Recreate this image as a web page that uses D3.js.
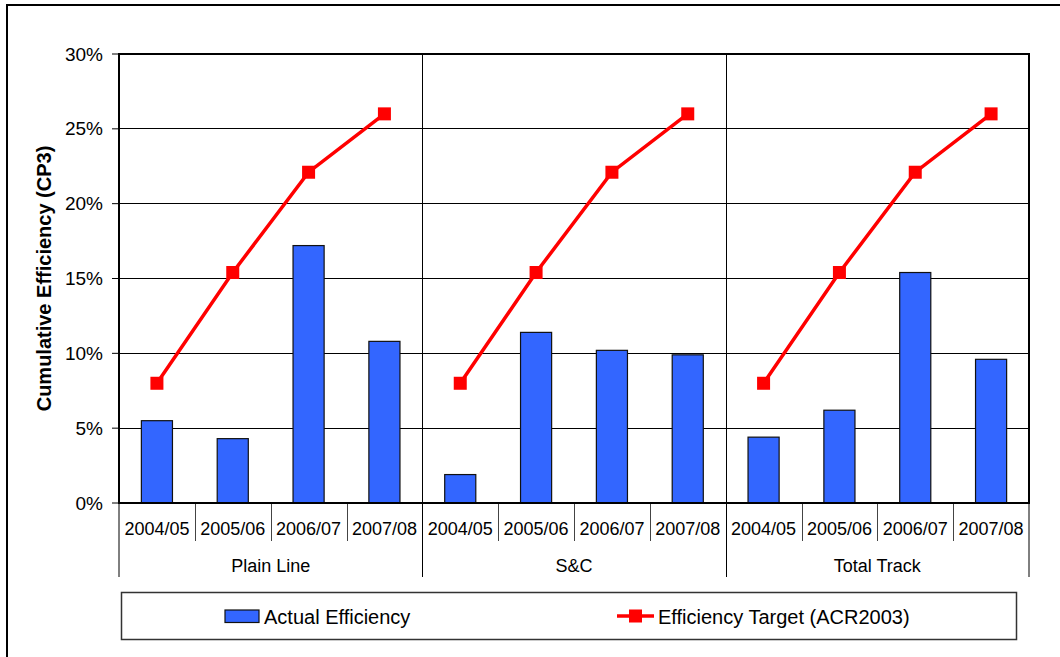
<!DOCTYPE html>
<html>
<head>
<meta charset="utf-8">
<script src="https://cdn.jsdelivr.net/npm/d3@7"></script>
<style>
  html, body { margin: 0; padding: 0; background: #fff; }
  svg { display: block; font-family: "Liberation Sans", Arial, sans-serif; }
</style>
</head>
<body>
<svg id="chart" width="1060" height="657"></svg>
<script>
// ---- data ----
const years = ["2004/05", "2005/06", "2006/07", "2007/08"];
const groups = ["Plain Line", "S&C", "Total Track"];
const actualEfficiency = [5.5, 4.3, 17.2, 10.8, 1.9, 11.4, 10.2, 9.9, 4.4, 6.2, 15.4, 9.6];
const efficiencyTarget = [8.0, 15.4, 22.1, 26.0, 8.0, 15.4, 22.1, 26.0, 8.0, 15.4, 22.1, 26.0];
const yTicks = [0, 5, 10, 15, 20, 25, 30];
const seriesNames = ["Actual Efficiency", "Efficiency Target (ACR2003)"];
const yTitle = "Cumulative Efficiency (CP3)";

// ---- layout ----
const svg = d3.select("#chart");
const L = 119, R = 1029, T = 54, B = 503;
const barColor = "#3366FF", lineColor = "#FF0000";

const keys = [];
groups.forEach((g, gi) => years.forEach((y, yi) => keys.push(gi + "|" + yi)));

const x = d3.scaleBand().domain(keys).range([L, R]).paddingInner(0.59).paddingOuter(0.295);
const y = d3.scaleLinear().domain([0, 30]).range([B, T]);
const step = x.step();

// outer frame
svg.append("rect").attr("x", 7).attr("y", 5).attr("width", 1070).attr("height", 670)
  .attr("fill", "none").attr("stroke", "#000").attr("stroke-width", 2);

// gridlines
svg.append("g").selectAll("line").data(yTicks.filter(d => d > 0 && d < 30)).join("line")
  .attr("x1", L).attr("x2", R).attr("y1", d => y(d)).attr("y2", d => y(d))
  .attr("stroke", "#000").attr("stroke-width", 1).attr("shape-rendering", "crispEdges");

// group divider lines (through plot and under axis)
const groupEdges = [0, 1, 2, 3].map(i => L + i * step * years.length);
svg.append("g").selectAll("line").data(groupEdges.slice(1, 3)).join("line")
  .attr("x1", d => Math.round(d) + 0.5).attr("x2", d => Math.round(d) + 0.5)
  .attr("y1", T).attr("y2", 577)
  .attr("stroke", "#000").attr("stroke-width", 1);
svg.append("g").selectAll("line").data([groupEdges[0], groupEdges[3]]).join("line")
  .attr("x1", d => Math.round(d)).attr("x2", d => Math.round(d))
  .attr("y1", B).attr("y2", 577)
  .attr("stroke", "#000").attr("stroke-width", 1);

// year ticks below axis
const yearTickX = [];
keys.forEach((k, i) => { if (i % 4 !== 0) yearTickX.push(L + i * step); });
svg.append("g").selectAll("line").data(yearTickX).join("line")
  .attr("x1", d => Math.round(d) + 0.5).attr("x2", d => Math.round(d) + 0.5)
  .attr("y1", B).attr("y2", 541)
  .attr("stroke", "#444").attr("stroke-width", 1);

// bars
svg.append("g").selectAll("rect").data(actualEfficiency).join("rect")
  .attr("x", (d, i) => x(keys[i]))
  .attr("y", d => y(d))
  .attr("width", x.bandwidth())
  .attr("height", d => B - y(d))
  .attr("fill", barColor).attr("stroke", "#111").attr("stroke-width", 1.2);

// target lines (one per group)
const line = d3.line().x(d => x(d.k) + x.bandwidth() / 2).y(d => y(d.v));
groups.forEach((g, gi) => {
  const pts = years.map((yr, yi) => ({ k: gi + "|" + yi, v: efficiencyTarget[gi * 4 + yi] }));
  svg.append("path").datum(pts).attr("d", line)
    .attr("fill", "none").attr("stroke", lineColor).attr("stroke-width", 3.5);
  svg.append("g").selectAll("rect").data(pts).join("rect")
    .attr("x", d => x(d.k) + x.bandwidth() / 2 - 6.5)
    .attr("y", d => y(d.v) - 6.5)
    .attr("width", 13).attr("height", 13).attr("fill", lineColor);
});

// plot border
svg.append("rect").attr("x", L).attr("y", T).attr("width", R - L).attr("height", B - T)
  .attr("fill", "none").attr("stroke", "#000").attr("stroke-width", 2);

// y axis ticks and labels
const yAxis = svg.append("g");
yAxis.selectAll("line").data(yTicks).join("line")
  .attr("x1", 112).attr("x2", L).attr("y1", d => y(d)).attr("y2", d => y(d))
  .attr("stroke", "#000").attr("stroke-width", 1);
yAxis.selectAll("text").data(yTicks).join("text")
  .attr("x", 103).attr("y", d => y(d)).attr("dy", "0.35em")
  .attr("text-anchor", "end").attr("font-size", 19).attr("fill", "#000")
  .text(d => d + "%");

// y title
svg.append("text")
  .attr("transform", "translate(51," + ((T + B) / 2) + ") rotate(-90)")
  .attr("text-anchor", "middle").attr("font-size", 20).attr("font-weight", "bold")
  .text(yTitle);

// year labels
svg.append("g").selectAll("text").data(keys).join("text")
  .attr("x", d => x(d) + x.bandwidth() / 2).attr("y", 529).attr("dy", "0.35em")
  .attr("text-anchor", "middle").attr("font-size", 18)
  .text(d => years[+d.split("|")[1]]);

// group labels
svg.append("g").selectAll("text").data(groups).join("text")
  .attr("x", (d, i) => (groupEdges[i] + groupEdges[i + 1]) / 2).attr("y", 566).attr("dy", "0.35em")
  .attr("text-anchor", "middle").attr("font-size", 18)
  .text(d => d);

// legend
const lg = svg.append("g");
lg.append("rect").attr("x", 121.5).attr("y", 592.5).attr("width", 895).attr("height", 47)
  .attr("fill", "#fff").attr("stroke", "#333").attr("stroke-width", 1.5);
lg.append("rect").attr("x", 225).attr("y", 610).attr("width", 34).attr("height", 12.5)
  .attr("fill", barColor).attr("stroke", "#111").attr("stroke-width", 1.2);
lg.append("text").attr("x", 264).attr("y", 616.5).attr("dy", "0.35em").attr("font-size", 20)
  .text(seriesNames[0]);
lg.append("line").attr("x1", 617).attr("x2", 654).attr("y1", 616).attr("y2", 616)
  .attr("stroke", lineColor).attr("stroke-width", 3.5);
lg.append("rect").attr("x", 629).attr("y", 609.5).attr("width", 13).attr("height", 13).attr("fill", lineColor);
lg.append("text").attr("x", 658).attr("y", 616.5).attr("dy", "0.35em").attr("font-size", 20)
  .text(seriesNames[1]);
</script>
</body>
</html>
